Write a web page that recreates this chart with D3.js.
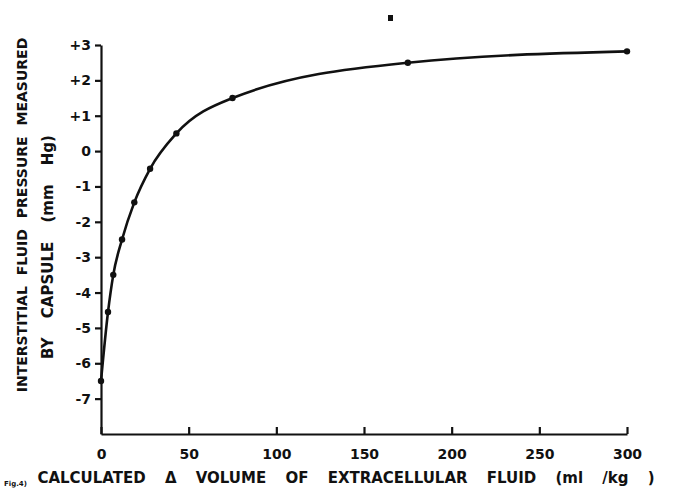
<!DOCTYPE html>
<meta charset="utf-8">
<style>
  body { margin: 0; background: #fff; }
  svg text { font-family: "DejaVu Sans", sans-serif; font-weight: bold; fill: #111; }
  .axis path, .axis line { fill: none; stroke: #111; stroke-width: 2.2px; }
  .axis text { font-size: 14px; }
</style>
<body>
<div id="chart"></div>
<script src="https://d3js.org/d3.v7.min.js"></script>
<script>
  // data
  var volume   = [0, 4, 7, 12, 19, 28, 43, 75, 175, 300];
  var pressure = [-6.5, -4.55, -3.5, -2.5, -1.45, -0.5, 0.5, 1.5, 2.5, 2.82];
  var xTicks = [0, 50, 100, 150, 200, 250, 300];
  var yTicks = [3, 2, 1, 0, -1, -2, -3, -4, -5, -6, -7];
  var yLabels = ["+3", "+2", "+1", "0", "-1", "-2", "-3", "-4", "-5", "-6", "-7"];

  var W = 675, H = 497;
  var margin = {top: 45, right: 48, bottom: 63, left: 101};

  var svg = d3.select("#chart").append("svg")
      .attr("width", W).attr("height", H);

  var x = d3.scaleLinear().domain([0, 300]).range([margin.left, W - margin.right]);
  var y = d3.scaleLinear().domain([-8, 3]).range([H - margin.bottom, margin.top]);

  // x axis, ticks pointing up into the plot
  var gx = svg.append("g")
      .attr("class", "axis")
      .attr("transform", "translate(0," + y(-8) + ")")
      .call(d3.axisBottom(x).tickValues(xTicks).tickSizeInner(-7).tickSizeOuter(0).tickPadding(12));
  gx.selectAll("text").attr("dy", "0.9em");

  // y axis
  svg.append("g")
      .attr("class", "axis")
      .attr("transform", "translate(" + x(0) + ",0)")
      .call(d3.axisLeft(y).tickValues(yTicks).tickSize(6).tickSizeOuter(0).tickPadding(4)
        .tickFormat(function(d, i) { return yLabels[i]; }));

  var pts = volume.map(function(v, i) { return [v, pressure[i]]; });

  var line = d3.line()
      .x(function(d) { return x(d[0]); })
      .y(function(d) { return y(d[1]); })
      .curve(d3.curveMonotoneX);

  svg.append("path")
      .datum(pts)
      .attr("d", line)
      .attr("fill", "none")
      .attr("stroke", "#111")
      .attr("stroke-width", 2.6);

  svg.selectAll("circle.pt")
      .data(pts)
      .enter().append("circle")
      .attr("class", "pt")
      .attr("cx", function(d) { return x(d[0]); })
      .attr("cy", function(d) { return y(d[1]); })
      .attr("r", 3.2)
      .attr("fill", "#111");

  // stray mark near the top
  svg.append("rect")
      .attr("x", 388).attr("y", 15).attr("width", 5).attr("height", 6)
      .attr("fill", "#111");

  // y axis title (two lines)
  svg.append("text")
      .attr("transform", "translate(27,215) rotate(-90)")
      .attr("text-anchor", "middle")
      .style("font-size", "14px")
      .style("word-spacing", "6px")
      .text("INTERSTITIAL FLUID PRESSURE MEASURED");
  svg.append("text")
      .attr("transform", "translate(53,247) rotate(-90)")
      .attr("text-anchor", "middle")
      .style("font-size", "15px")
      .style("word-spacing", "14px")
      .text("BY CAPSULE (mm Hg)");

  // x axis title
  svg.append("text")
      .attr("x", 346).attr("y", 483)
      .attr("text-anchor", "middle")
      .style("font-size", "15px")
      .style("word-spacing", "14px")
      .text("CALCULATED \u0394 VOLUME OF EXTRACELLULAR FLUID (ml /kg )");

  svg.append("text")
      .attr("x", 4).attr("y", 486)
      .style("font-size", "7px")
      .text("Fig.4)");
</script>
</body>
